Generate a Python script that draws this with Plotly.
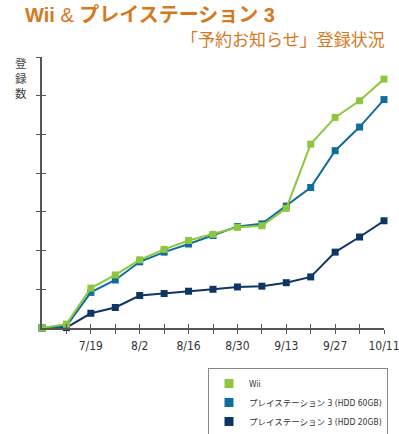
import plotly.graph_objects as go

dates = ["7/5", "7/12", "7/19", "7/26", "8/2", "8/9", "8/16", "8/23",
         "8/30", "9/6", "9/13", "9/20", "9/27", "10/4", "10/11"]
wii = [0, 0.10, 1.03, 1.37, 1.76, 2.03, 2.26, 2.42, 2.60, 2.64, 3.09, 4.75, 5.44, 5.87, 6.43]
ps3_60 = [0, 0.05, 0.92, 1.24, 1.71, 1.96, 2.17, 2.39, 2.62, 2.69, 3.15, 3.63, 4.58, 5.19, 5.90]
ps3_20 = [0, 0.01, 0.38, 0.53, 0.84, 0.89, 0.95, 1.00, 1.06, 1.08, 1.17, 1.32, 1.96, 2.35, 2.77]

names = ["Wii", "プレイステーション 3 (HDD 60GB)", "プレイステーション 3 (HDD 20GB)"]
colors = ["#8DC63F", "#0F6C9B", "#0E3563"]
series = [wii, ps3_60, ps3_20]

x = list(range(len(dates)))
tickvals = x[1:]
ticktext = [d if i % 2 == 0 else "" for i, d in enumerate(dates)][1:]

NARROW = "Liberation Sans Narrow, DejaVu Sans Condensed, Noto Sans CJK JP, sans-serif"
ORANGE = "#D6791D"
AXIS = "#555555"

L, R, T, B = 42, 15, 57, 106
W, H = 399, 434
PW, PH = W - L - R, H - T - B


def px(xp):
    return (xp - L) / PW


def py(yp):
    return (H - B - yp) / PH


fig = go.Figure()
for name, col, vals in reversed(list(zip(names, colors, series))):
    fig.add_trace(go.Scatter(
        x=x, y=vals, mode="lines+markers", name=name, showlegend=False,
        line=dict(color=col, width=2),
        marker=dict(symbol="square", size=7, color=col),
        cliponaxis=False, hoverinfo="skip",
    ))
for name, col in zip(names, colors):
    fig.add_trace(go.Scatter(
        x=[None], y=[None], mode="markers", name=name,
        marker=dict(symbol="square", size=9, color=col),
        xaxis="x2", yaxis="y2",
    ))

common_x = dict(range=[0, 14], tickvals=tickvals, showgrid=False, zeroline=False,
                ticklen=4, tickwidth=1, tickcolor=AXIS, fixedrange=True)
common_y = dict(range=[0, 7], tickvals=[1, 2, 3, 4, 5, 6, 7], showgrid=False,
                zeroline=False, ticklen=4, tickwidth=1, tickcolor=AXIS, fixedrange=True)

fig.update_layout(
    width=W, height=H,
    margin=dict(l=L, r=R, t=T, b=B, autoexpand=False),
    paper_bgcolor="white", plot_bgcolor="white",
    xaxis=dict(**common_x, ticktext=ticktext, ticks="outside", showline=True,
               linecolor=AXIS, linewidth=1.5, ticklabeloverflow="allow",
               ticklabelstandoff=2,
               tickfont=dict(family=NARROW, size=12, color="#333333")),
    xaxis2=dict(**common_x, overlaying="x", anchor="y", ticks="inside",
                showticklabels=False, showline=False),
    yaxis=dict(**common_y, ticks="outside", showticklabels=False, showline=True,
               linecolor=AXIS, linewidth=1.5),
    yaxis2=dict(**common_y, overlaying="y", anchor="x", ticks="inside",
                showticklabels=False, showline=False),
    legend=dict(
        x=px(208), y=py(368), xanchor="left", yanchor="top",
        bordercolor="#888888", borderwidth=1, bgcolor="white",
        font=dict(family=NARROW, size=8.5, color="#333333"),
        tracegroupgap=0,
    ),
    showlegend=True,
)

fig.add_annotation(
    text="<b>Wii</b> & <b>プレイステーション 3</b>",
    xref="paper", yref="paper", x=px(150), y=py(14.5),
    xanchor="center", yanchor="middle", showarrow=False,
    font=dict(family="Liberation Sans, Arial, Noto Sans CJK JP, sans-serif", size=20, color=ORANGE),
)
fig.add_annotation(
    text="「予約お知らせ」登録状況",
    xref="paper", yref="paper", x=px(387), y=py(38),
    xanchor="right", yanchor="middle", showarrow=False,
    font=dict(family="Noto Sans CJK JP, sans-serif", size=17, color=ORANGE),
)
fig.add_annotation(
    text="登<br>録<br>数", xref="paper", yref="paper",
    x=px(21), y=py(78), xanchor="center", yanchor="middle", showarrow=False,
    font=dict(family="Noto Sans CJK JP, sans-serif", size=11.5, color="#444444"),
)

fig.write_html("out.html", config={"displayModeBar": False},
               post_script="document.body.style.margin='0';")
